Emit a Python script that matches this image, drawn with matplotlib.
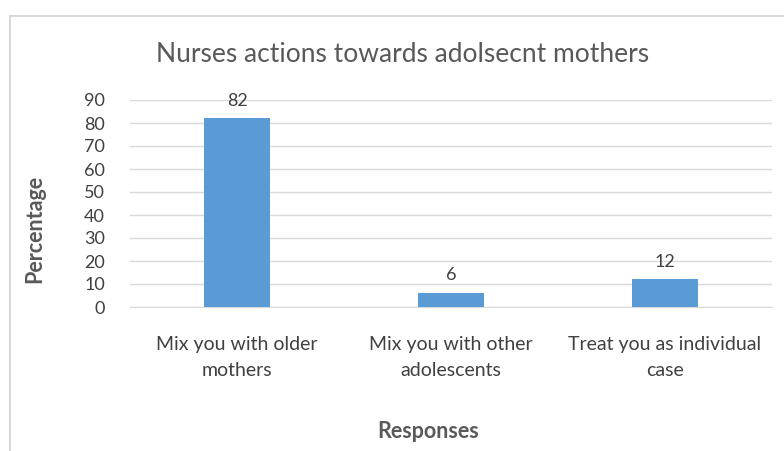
import matplotlib
matplotlib.use("Agg")
import matplotlib.pyplot as plt
from matplotlib.patches import Rectangle

categories = ["Mix you with older\nmothers", "Mix you with other\nadolescents", "Treat you as individual\ncase"]
values = [82, 6, 12]
yticks = [0, 10, 20, 30, 40, 50, 60, 70, 80, 90]

W, H = 784, 451
fig = plt.figure(figsize=(W / 100, H / 100), dpi=100)
plt.rcParams['font.family'] = ['Lato', 'DejaVu Sans']

# chart-area border
fig.patches.append(Rectangle((10 / W, -0.1), 1.2, (H - 16) / H + 0.1, transform=fig.transFigure,
                             fill=False, edgecolor='#d9d9d9', linewidth=1.5))

ax = fig.add_axes([130 / W, (H - 307) / H, (772 - 130) / W, (307 - 100) / H])
x = range(len(categories))
bars = ax.bar(x, values, width=0.31, color='#5b9bd5', zorder=3)
ax.set_xlim(-0.5, len(categories) - 0.5)
ax.set_ylim(0, 90)
ax.set_yticks(yticks)
ax.set_yticklabels([str(t) for t in yticks], fontsize=13, color='#404040')
ax.set_xticks(list(x))
ax.set_xticklabels(categories, fontsize=14, color='#404040', linespacing=1.6)
ax.tick_params(axis='both', length=0)
ax.tick_params(axis='x', pad=21)
ax.tick_params(axis='y', pad=18)
ax.grid(axis='y', color='#d9d9d9', linewidth=1, zorder=0)
for s in ['top', 'right', 'left']:
    ax.spines[s].set_visible(False)
ax.spines['bottom'].set_color('#d9d9d9')

for xi, v in zip(x, values):
    ax.annotate(str(v), (xi, v), xytext=(0, 7), textcoords='offset points',
                ha='center', va='bottom', fontsize=13, color='#404040')

fig.text(403 / W, 1 - 54 / H, "Nurses actions towards adolsecnt mothers", ha='center', va='center',
         fontsize=19, color='#595959')
fig.text(35 / W, 1 - 229 / H, "Percentage", rotation=90, ha='center', va='center',
         fontsize=15.5, fontweight='bold', color='#595959')
fig.text(428 / W, 1 - 432 / H, "Responses", ha='center', va='center',
         fontsize=15.5, fontweight='bold', color='#595959')

fig.savefig("out.png", dpi=100)
